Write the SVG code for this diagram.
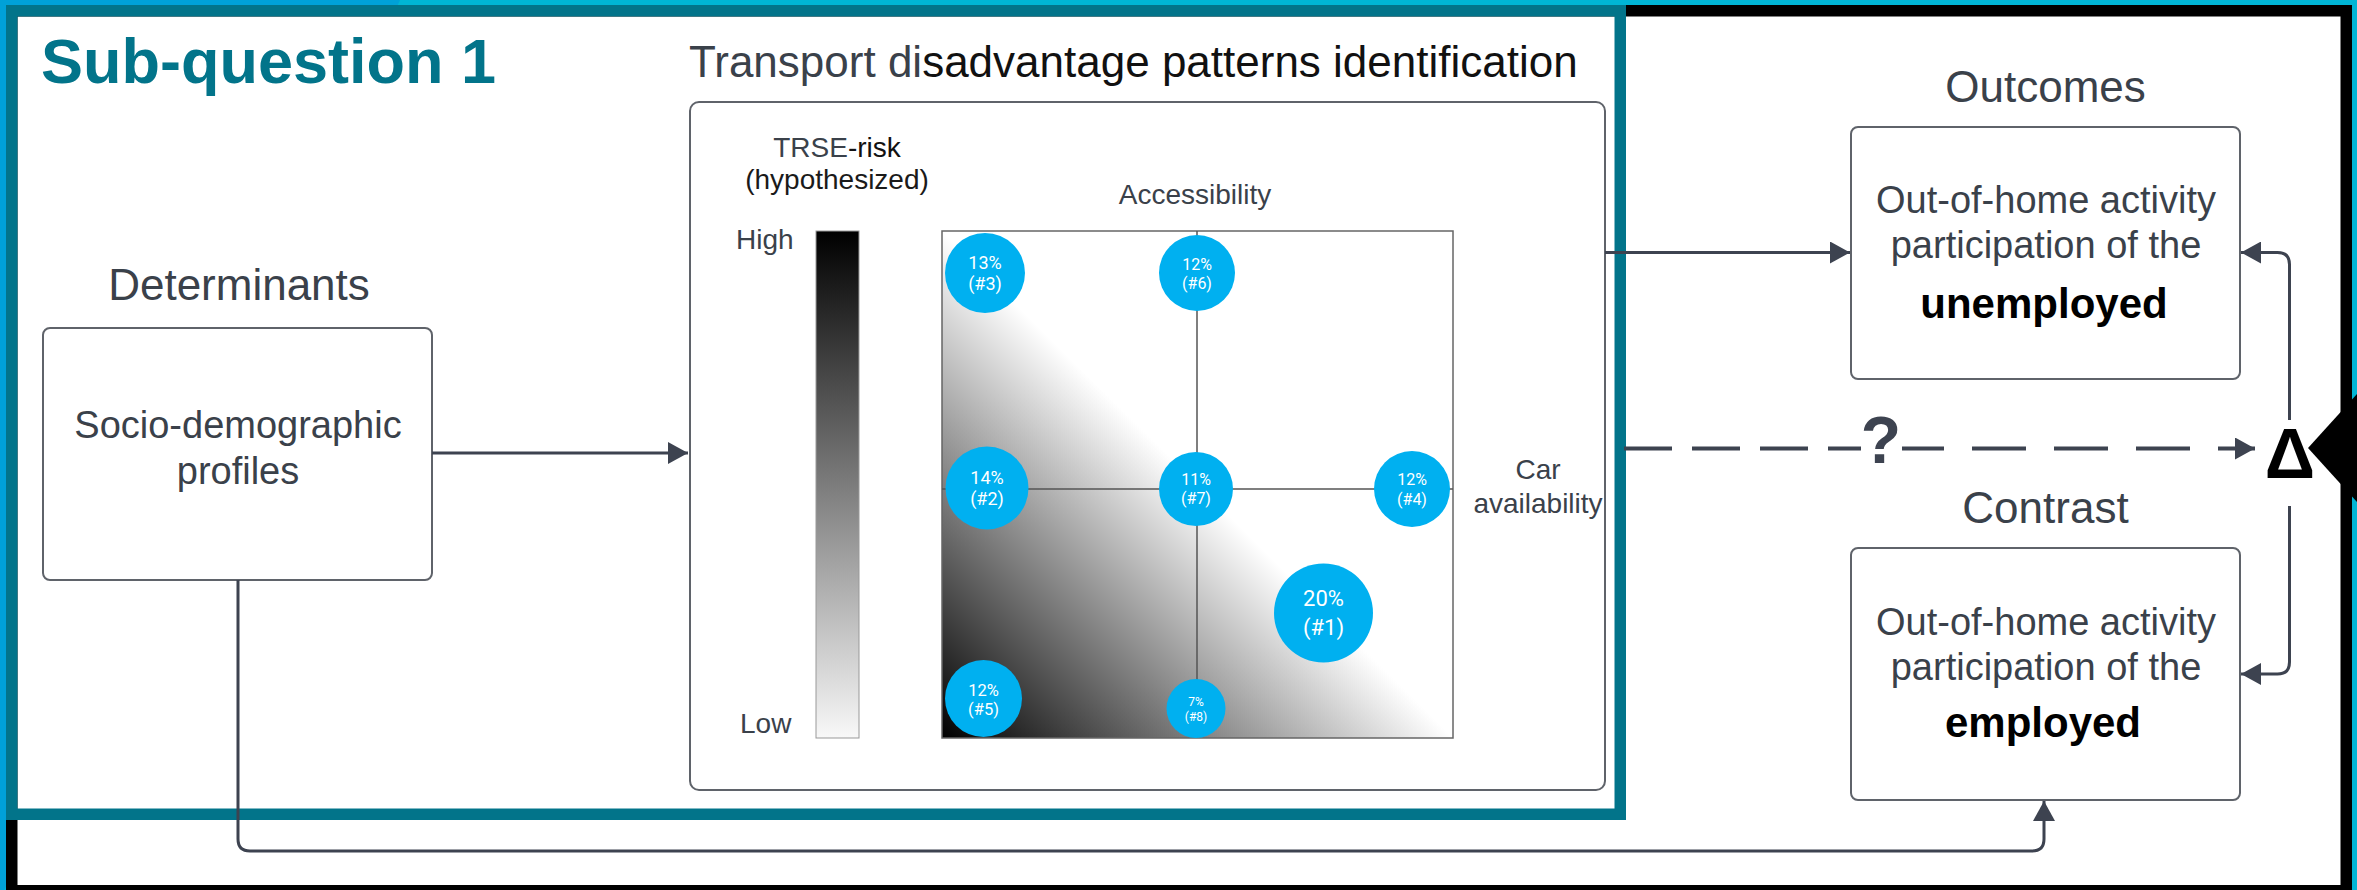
<svg xmlns="http://www.w3.org/2000/svg" width="2357" height="890" viewBox="0 0 2357 890">
<style>
  .t{font-family:"Liberation Sans",Arial,sans-serif;fill:#3a414a}
  .hd{font-size:44px;text-anchor:middle}
  .bx{fill:#fff;stroke:#5f636a;stroke-width:2}
  .bt{font-size:38px;text-anchor:middle}
  .bb{font-family:"Liberation Sans",Arial,sans-serif;font-weight:bold;font-size:42px;fill:#000;text-anchor:middle}
  .ax{font-size:28px}
  .c{fill:#00b0f0}
  .ct{font-family:Roboto,"Liberation Sans",Arial,sans-serif;fill:#fff;text-anchor:middle}
  .cn{fill:none;stroke:#3d4350;stroke-width:3}
  .dash{fill:none;stroke:#3d4350;stroke-width:4}
</style>
<defs>
  <marker id="ah" viewBox="0 0 20 22" refX="20" refY="11" markerWidth="20" markerHeight="22" markerUnits="userSpaceOnUse" orient="auto">
    <path d="M0,0 L20,11 L0,22 z" fill="#3d4350"/>
  </marker>
  <linearGradient id="plotg" x1="0" y1="1" x2="0.5" y2="0.5">
    <stop offset="0" stop-color="#000"/>
    <stop offset="1" stop-color="#fff"/>
  </linearGradient>
  <linearGradient id="barg" x1="0" y1="0" x2="0" y2="1">
    <stop offset="0" stop-color="#000"/>
    <stop offset="1" stop-color="#f8f8f8"/>
  </linearGradient>
</defs>

<!-- background and frames -->
<rect x="0" y="0" width="2357" height="890" fill="#00b5d5"/>
<polygon points="0,0 400,0 0,900" fill="#00a1d8"/>
<rect x="11.75" y="10.75" width="2334.5" height="880" fill="#fff" stroke="#000" stroke-width="11.5"/>
<polygon points="2308,448 2357,394 2357,502" fill="#000"/>

<g id="sub-question-1">
  <rect x="11.75" y="10.75" width="1608.5" height="803.5" fill="none" stroke="#02748a" stroke-width="11.5"/>
  <text x="41" y="83" font-family="'Liberation Sans',Arial,sans-serif" font-weight="bold" font-size="63" fill="#02748a">Sub-question 1</text>
</g>

<g id="determinants">
  <text class="t hd" x="239" y="300">Determinants</text>
  <rect class="bx" x="43" y="328" width="389" height="252" rx="7"/>
  <text class="t bt" x="238" y="438">Socio-demographic</text>
  <text class="t bt" x="238" y="484">profiles</text>
</g>

<g id="patterns">
  <text class="t" x="689" y="77" font-size="44"><tspan>Transport di</tspan><tspan fill="#111">sadvantage patterns identification</tspan></text>
  <rect class="bx" x="690" y="102" width="915" height="688" rx="9"/>
  <text class="t ax" x="837" y="157" text-anchor="middle"><tspan>TRSE</tspan><tspan fill="#111">-risk</tspan></text>
  <text class="t ax" x="837" y="189" text-anchor="middle" fill="#111" style="fill:#1a1a1a">(hypothesized)</text>
  <text class="t ax" x="736" y="249">High</text>
  <text class="t ax" x="740" y="733">Low</text>
  <rect x="816" y="231" width="43" height="507" fill="url(#barg)" stroke="#999" stroke-width="1"/>
  <text class="t ax" x="1195" y="204" text-anchor="middle">Accessibility</text>
  <text class="t ax" x="1538" y="479" text-anchor="middle">Car</text>
  <text class="t ax" x="1538" y="513" text-anchor="middle">availability</text>
  <rect x="942" y="231" width="511" height="507" fill="url(#plotg)" stroke="#666" stroke-width="1.5"/>
  <line x1="1197" y1="231" x2="1197" y2="738" stroke="#555" stroke-width="1.5"/>
  <line x1="942" y1="489" x2="1453" y2="489" stroke="#555" stroke-width="1.5"/>
  <g id="cluster-3"><circle class="c" cx="985" cy="273" r="40"/><text class="ct" x="985" y="269" font-size="18">13%</text><text class="ct" x="985" y="290" font-size="18">(#3)</text></g>
  <g id="cluster-6"><circle class="c" cx="1197" cy="273" r="38"/><text class="ct" x="1197" y="270" font-size="16">12%</text><text class="ct" x="1197" y="288.5" font-size="16">(#6)</text></g>
  <g id="cluster-2"><circle class="c" cx="987" cy="488" r="41.5"/><text class="ct" x="987" y="483.5" font-size="18">14%</text><text class="ct" x="987" y="504.5" font-size="18">(#2)</text></g>
  <g id="cluster-7"><circle class="c" cx="1196" cy="489" r="37"/><text class="ct" x="1196" y="485" font-size="16">11%</text><text class="ct" x="1196" y="504" font-size="16">(#7)</text></g>
  <g id="cluster-4"><circle class="c" cx="1412" cy="489" r="38"/><text class="ct" x="1412" y="485" font-size="16">12%</text><text class="ct" x="1412" y="504.5" font-size="16">(#4)</text></g>
  <g id="cluster-1"><circle class="c" cx="1323.5" cy="613" r="49.5"/><text class="ct" x="1323.5" y="606" font-size="22">20%</text><text class="ct" x="1323.5" y="635" font-size="22">(#1)</text></g>
  <g id="cluster-5"><circle class="c" cx="983.5" cy="698.5" r="38.5"/><text class="ct" x="983.5" y="696" font-size="16.5">12%</text><text class="ct" x="983.5" y="714.5" font-size="16.5">(#5)</text></g>
  <g id="cluster-8"><circle class="c" cx="1196" cy="708.5" r="29.5"/><text class="ct" x="1196" y="706" font-size="12">7%</text><text class="ct" x="1196" y="720.5" font-size="12">(#8)</text></g>
</g>

<g id="outcomes">
  <text class="t hd" x="2045.5" y="102">Outcomes</text>
  <rect class="bx" x="1851" y="127" width="389" height="252" rx="7"/>
  <text class="t bt" x="2046" y="213">Out-of-home activity</text>
  <text class="t bt" x="2046" y="258">participation of the</text>
  <text class="bb" x="2044" y="318">unemployed</text>
</g>

<g id="contrast">
  <text class="t hd" x="2045.5" y="523">Contrast</text>
  <rect class="bx" x="1851" y="548" width="389" height="252" rx="7"/>
  <text class="t bt" x="2046" y="635">Out-of-home activity</text>
  <text class="t bt" x="2046" y="680">participation of the</text>
  <text class="bb" x="2043" y="737">employed</text>
</g>

<g id="delta">
  <text x="2290" y="478" font-family="'Liberation Sans',Arial,sans-serif" font-weight="bold" font-size="70" fill="#000" text-anchor="middle">Δ</text>
</g>

<g id="connectors">
  <path class="cn" d="M432,453 H688" marker-end="url(#ah)"/>
  <path class="cn" d="M1605,252.5 H1850" marker-end="url(#ah)"/>
  <path class="cn" d="M238,580 V839 Q238,851 250,851 H2032 Q2044,851 2044,839 V801" marker-end="url(#ah)"/>
  <path class="cn" d="M2289.5,420 V264.5 Q2289.5,252.5 2277.5,252.5 H2241" marker-end="url(#ah)"/>
  <path class="cn" d="M2289.5,506 V662 Q2289.5,674 2277.5,674 H2241" marker-end="url(#ah)"/>
  <path class="dash" d="M1624,448.5 H1861" stroke-dasharray="48 20"/>
  <path class="dash" d="M1902,448.5 H2255" stroke-dasharray="54 28" stroke-dashoffset="12" marker-end="url(#ah)"/>
  <text x="1881" y="463" font-family="'Liberation Sans',Arial,sans-serif" font-weight="bold" font-size="66" fill="#3d4350" text-anchor="middle">?</text>
</g>
</svg>
